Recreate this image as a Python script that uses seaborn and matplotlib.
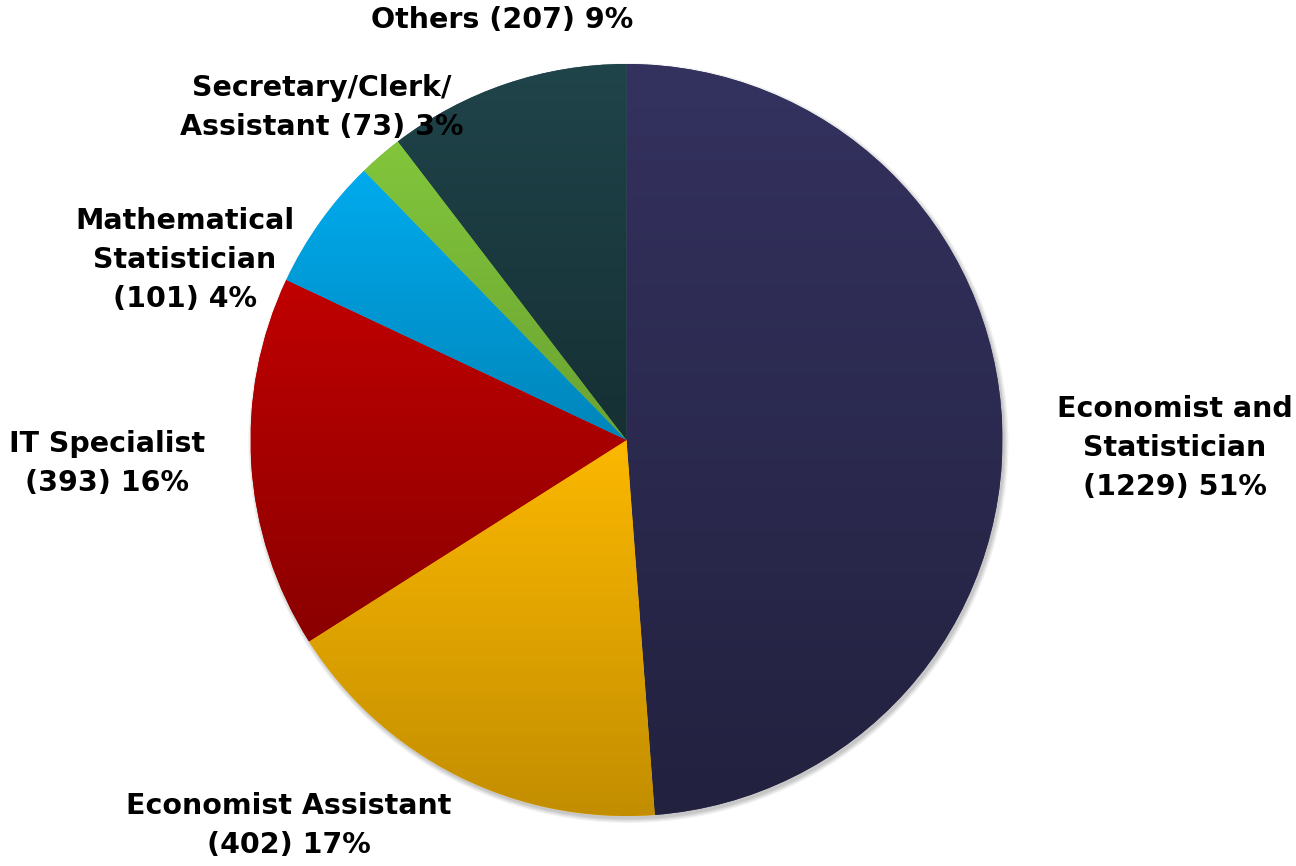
import numpy as np
import matplotlib
matplotlib.use("Agg")
import matplotlib.pyplot as plt
import matplotlib.colors as mcolors
from matplotlib.patches import Circle
import seaborn as sns

sns.set_theme(style="white")
plt.rcParams['font.family'] = ['DejaVu Sans']

# ---- data ----
categories = ["Economist and\nStatistician", "Economist Assistant", "IT Specialist",
              "Mathematical\nStatistician", "Secretary/Clerk/\nAssistant", "Others"]
counts = [1229, 402, 393, 101, 73, 207]
pct_labels = ["51%", "17%", "16%", "4%", "3%", "9%"]
# slice shares as drawn in the picture (percent of the circle)
shares = [48.8, 17.2, 16.0, 5.7, 1.9, 10.4]
colors = ["#34325f", "#fcb800", "#c00000", "#00abee", "#82c63c", "#1f444a"]
dark_factor = [0.66, 0.77, 0.72, 0.78, 0.82, 0.70]

label_texts = [
    "Economist and\nStatistician\n(1229) 51%",
    "Economist Assistant\n(402) 17%",
    "IT Specialist\n(393) 16%",
    "Mathematical\nStatistician\n(101) 4%",
    "Secretary/Clerk/\nAssistant (73) 3%",
    "Others (207) 9%",
]
# label block centres in pixel coords (x, y from top)
label_pos = [(1175, 448), (289, 825), (107, 463), (185, 260), (322, 107), (502, 20)]

W, H = 1296, 866
fig = plt.figure(figsize=(W / 100, H / 100), dpi=100)
ax = fig.add_axes([0, 0, 1, 1])

cx, cy, r = 626.5, H - 440, 376

# soft shadow
for i, a in enumerate([0.05, 0.05, 0.06, 0.07]):
    ax.add_patch(Circle((cx + 2, cy - 3), r + 4 - i * 1.2, color="black",
                        alpha=a, lw=0, zorder=1))

wedges, _ = ax.pie(shares, colors=colors, startangle=90, counterclock=False,
                   center=(cx, cy), radius=r, frame=True,
                   wedgeprops=dict(linewidth=0, zorder=2))

# vertical gradient fill per wedge
for w, c, f in zip(wedges, colors, dark_factor):
    bb = w.get_path().get_extents()
    top = np.array(mcolors.to_rgb(c))
    bot = top * f
    t = np.linspace(0, 1, 256)[:, None]
    grad = top[None, :] * (1 - t) + bot[None, :] * t
    img = np.repeat(grad[:, None, :], 2, axis=1)
    im = ax.imshow(img, extent=(bb.x0, bb.x1, bb.y0, bb.y1), origin="upper",
                   aspect="auto", interpolation="bilinear", zorder=3)
    im.set_clip_path(w)

for txt, (px, py) in zip(label_texts, label_pos):
    ax.text(px, H - py, txt, ha="center", va="center", fontsize=20.5,
            fontweight="bold", color="black", linespacing=1.5, zorder=5)

ax.set_xlim(0, W)
ax.set_ylim(0, H)
ax.set_aspect("equal")
ax.axis("off")
fig.savefig("out.png", dpi=100, facecolor="white")
